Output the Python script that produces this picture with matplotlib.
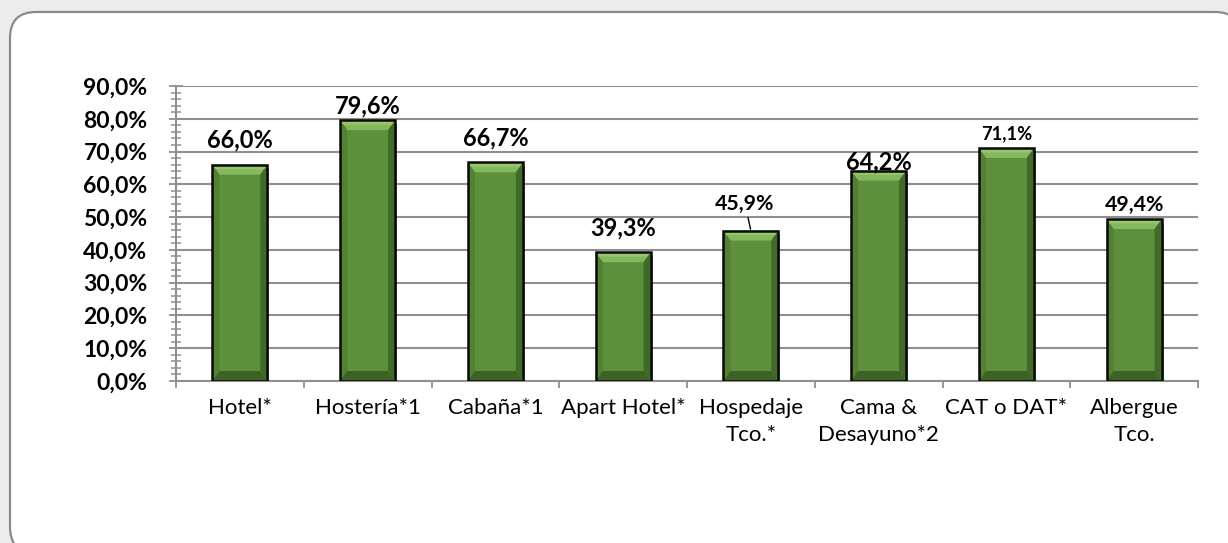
import matplotlib
matplotlib.use("Agg")
import matplotlib.pyplot as plt
import matplotlib.patheffects as pe
from matplotlib.patches import FancyBboxPatch, Polygon, Rectangle
from matplotlib.ticker import MultipleLocator, FixedLocator, NullFormatter
import matplotlib.transforms as mtransforms

# ---- data ----
categories = ["Hotel*", "Hostería*1", "Cabaña*1", "Apart Hotel*", "Hospedaje\nTco.*",
              "Cama &\nDesayuno*2", "CAT o DAT*", "Albergue\nTco."]
values = [0.660, 0.796, 0.667, 0.393, 0.459, 0.642, 0.711, 0.494]
value_labels = ["66,0%", "79,6%", "66,7%", "39,3%", "45,9%", "64,2%", "71,1%", "49,4%"]
y_ticks = [0.0, 0.1, 0.2, 0.3, 0.4, 0.5, 0.6, 0.7, 0.8, 0.9]
y_tick_labels = ["0,0%", "10,0%", "20,0%", "30,0%", "40,0%", "50,0%", "60,0%",
                 "70,0%", "80,0%", "90,0%"]

# ---- label styling (offsets in px above bar top, x shift px, relative size) ----
label_dy_px = [25, 14, 24, 24, 27, 9, 14, 14]
label_dx_px = [0, 0, 0, 0, -6, 0, 0, 0]
label_scale = [1.0, 1.0, 1.0, 1.0, 0.9, 1.0, 0.78, 0.9]
leader = [False, False, False, False, True, False, False, False]

plt.rcParams['font.family'] = ['Lato', 'DejaVu Sans']

W, H = 1228, 543
fig = plt.figure(figsize=(W / 100, H / 100), dpi=100, facecolor='#ececec')

# rounded white panel
panel = FancyBboxPatch((10, -10), 1231, 541,
                       boxstyle="round,pad=0,rounding_size=26",
                       transform=mtransforms.IdentityTransform(),
                       facecolor='white', edgecolor='#8a8a8a', linewidth=1.6, zorder=-5)
fig.patches.append(panel)

ax_l, ax_r, ax_t, ax_b = 176, 1198, 86, 381
ax = fig.add_axes([ax_l / W, 1 - ax_b / H, (ax_r - ax_l) / W, (ax_b - ax_t) / H])
ax.set_facecolor('none')

n = len(categories)
xpos = list(range(n))
ax.set_xlim(-0.5, n - 0.5)
ax.set_ylim(0, 0.9)

grid_c = '#8f8f8f'
ax.yaxis.set_major_locator(FixedLocator(y_ticks))
ax.set_yticklabels(y_tick_labels, fontsize=16.5, fontweight='bold')
ax.yaxis.set_minor_locator(MultipleLocator(0.02))
ax.tick_params(axis='y', which='major', direction='inout', length=10, width=1.3,
               color=grid_c, pad=15.5)
ax.tick_params(axis='y', which='minor', direction='inout', length=7.5, width=1.1,
               color=grid_c)
ax.grid(axis='y', which='major', color=grid_c, linewidth=1.5, zorder=0)
ax.set_axisbelow(True)

# x ticks at category boundaries, labels at centres
ax.xaxis.set_major_locator(FixedLocator(xpos))
ax.set_xticklabels(categories, fontsize=16, linespacing=1.45)
ax.tick_params(axis='x', which='major', length=0, pad=12)
ax.xaxis.set_minor_locator(FixedLocator([i - 0.5 for i in range(n + 1)]))
ax.xaxis.set_minor_formatter(NullFormatter())
ax.tick_params(axis='x', which='minor', direction='out', length=5, width=1.3, color=grid_c)

for s in ['top', 'right']:
    ax.spines[s].set_visible(False)
for s in ['left', 'bottom']:
    ax.spines[s].set_color(grid_c)
    ax.spines[s].set_linewidth(1.5)

# bars
bar_w = 0.43
face = '#5e8f3d'
bars = ax.bar(xpos, values, width=bar_w, color=face, edgecolor='none', zorder=3)
for b in bars:
    b.set_path_effects([pe.SimplePatchShadow(offset=(1.5, -2.5), shadow_rgbFace='k',
                                             alpha=0.55), pe.Normal()])

px_x = (ax_r - ax_l) / n          # px per category unit
px_y = (ax_b - ax_t) / 0.9        # px per value unit
bev_x = 7 / px_x
bev_y = 10 / px_y

for b in bars:
    x0 = b.get_x()
    x1 = x0 + b.get_width()
    h = b.get_height()
    top = Polygon([(x0, h), (x1, h), (x1 - bev_x, h - bev_y), (x0 + bev_x, h - bev_y)],
                  closed=True, facecolor='#84b85c', edgecolor='none', zorder=3.2)
    top_hi = Polygon([(x0, h), (x1, h), (x1 - bev_x * 0.45, h - bev_y * 0.45),
                      (x0 + bev_x * 0.45, h - bev_y * 0.45)],
                     closed=True, facecolor='#95c56d', edgecolor='none', zorder=3.3)
    left = Polygon([(x0, h), (x0 + bev_x, h - bev_y), (x0 + bev_x, bev_y), (x0, 0)],
                   closed=True, facecolor='#537f36', edgecolor='none', zorder=3.2)
    right = Polygon([(x1, h), (x1 - bev_x, h - bev_y), (x1 - bev_x, bev_y), (x1, 0)],
                    closed=True, facecolor='#3f6a28', edgecolor='none', zorder=3.2)
    bottom = Polygon([(x0, 0), (x1, 0), (x1 - bev_x, bev_y), (x0 + bev_x, bev_y)],
                     closed=True, facecolor='#3c6325', edgecolor='none', zorder=3.2)
    for p in (top, top_hi, left, right, bottom):
        ax.add_patch(p)
    outline = Rectangle((x0, 0), b.get_width(), h, fill=False, edgecolor='#0a0a0a',
                        linewidth=1.8, zorder=3.5)
    ax.add_patch(outline)

# data labels
base_fs = 17
for i, (x, v, lab) in enumerate(zip(xpos, values, value_labels)):
    kw = dict(xy=(x, v), xytext=(label_dx_px[i] * 0.72, label_dy_px[i] * 0.72),
              textcoords='offset points', ha='center', va='center',
              fontsize=base_fs * label_scale[i], fontweight='bold', color='black',
              zorder=6)
    if leader[i]:
        kw['arrowprops'] = dict(arrowstyle='-', color='black', lw=1.0,
                                shrinkA=1, shrinkB=1)
    ax.annotate(lab, **kw)

fig.savefig("out.png", dpi=100, facecolor=fig.get_facecolor())
